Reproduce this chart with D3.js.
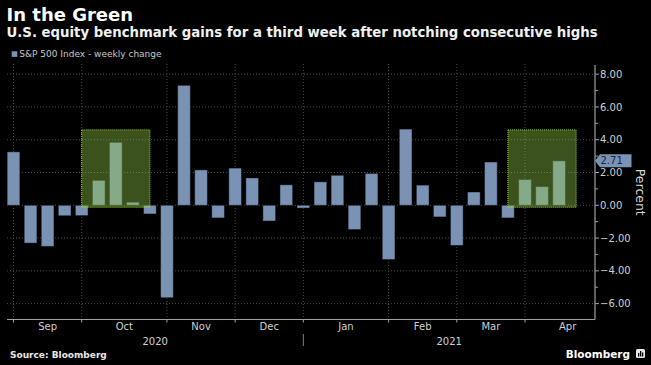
<!DOCTYPE html>
<html>
<head>
<meta charset="utf-8">
<script src="https://cdn.jsdelivr.net/npm/d3@7/dist/d3.min.js"></script>
<style>
  html, body { margin: 0; padding: 0; background: #000; }
  svg { display: block; }
</style>
</head>
<body>
<svg id="chart" width="651" height="365"></svg>
<script>
// ---- data ----
const weeks = ["2020-08-28","2020-09-04","2020-09-11","2020-09-18","2020-09-25","2020-10-02","2020-10-09","2020-10-16","2020-10-23","2020-10-30","2020-11-06","2020-11-13","2020-11-20","2020-11-27","2020-12-04","2020-12-11","2020-12-18","2020-12-24","2020-12-31","2021-01-08","2021-01-15","2021-01-22","2021-01-29","2021-02-05","2021-02-12","2021-02-19","2021-02-26","2021-03-05","2021-03-12","2021-03-19","2021-03-26","2021-04-01","2021-04-09"];
const values = [3.26,-2.31,-2.51,-0.64,-0.63,1.52,3.84,0.19,-0.53,-5.64,7.32,2.16,-0.77,2.27,1.67,-0.96,1.25,-0.17,1.43,1.83,-1.48,1.94,-3.31,4.65,1.23,-0.71,-2.45,0.81,2.64,-0.77,1.57,1.14,2.71];
const monthLabels = ["Sep","Oct","Nov","Dec","Jan","Feb","Mar","Apr"];
const monthGridWeek = [0,4,9,13,17,22,26,30,35];
const yearLabels = ["2020","2021"];
const yearSplitWeek = 17;
const yTicks = [8,6,4,2,0,-2,-4,-6];
const yMinorTicks = [7,5,3,1,-1,-3,-5];
const highlights = [{from:4,to:8},{from:29,to:33}];
const highlightTop = 4.6, highlightBottom = -0.12;
const lastValue = 2.71;

const svg = d3.select("#chart");
svg.append("rect").attr("width",651).attr("height",365).attr("fill","#000");

const plotL = 7, plotR = 595, plotT = 65, plotB = 319.5;
const x = d3.scaleBand().domain(weeks).range([7.15, 565.45]).paddingInner(0.255).paddingOuter(0);
const y = d3.scaleLinear().domain([-6.97, 8.56]).range([plotB, plotT]);
const xc = i => x.range()[0] + x.step()*i + x.bandwidth()/2;

// ---- gridlines ----
const grid = svg.append("g");
grid.selectAll("line.h").data(yTicks).join("line")
  .attr("x1", plotL).attr("x2", plotR)
  .attr("y1", d => y(d)).attr("y2", d => y(d))
  .attr("stroke", "#4a4a4a").attr("stroke-width", 1).attr("stroke-dasharray", "1,2");
grid.selectAll("line.v").data(monthGridWeek.filter(i => i < weeks.length)).join("line")
  .attr("x1", d => xc(d)).attr("x2", d => xc(d))
  .attr("y1", plotT - 1).attr("y2", plotB)
  .attr("stroke", "#4a4a4a").attr("stroke-width", 1).attr("stroke-dasharray", "1,2");

// ---- bars ----
svg.append("g").selectAll("rect").data(values).join("rect")
  .attr("x", (d,i) => x(weeks[i]))
  .attr("width", x.bandwidth())
  .attr("y", d => y(Math.max(0,d)))
  .attr("height", d => Math.abs(y(d) - y(0)))
  .attr("fill", "#7a93b5")
  .attr("stroke", "rgba(0,0,0,0.45)").attr("stroke-width", 1);

// ---- highlights ----
svg.append("g").selectAll("rect").data(highlights).join("rect")
  .attr("x", d => xc(d.from))
  .attr("width", d => xc(d.to) - xc(d.from))
  .attr("y", y(highlightTop))
  .attr("height", y(highlightBottom) - y(highlightTop))
  .attr("fill", "rgba(150,205,70,0.40)")
  .attr("stroke", "#9fcf3a").attr("stroke-width", 1).attr("stroke-dasharray", "1,1");

// ---- x axis ----
const ax = svg.append("g");
ax.append("line").attr("x1", plotL).attr("x2", plotR).attr("y1", plotB).attr("y2", plotB)
  .attr("stroke", "#a0a0a0").attr("stroke-width", 1.2);
ax.selectAll("line.t").data(monthGridWeek.filter(i => i < weeks.length)).join("line")
  .attr("x1", d => xc(d)).attr("x2", d => xc(d)).attr("y1", plotB).attr("y2", plotB + 3)
  .attr("stroke", "#a0a0a0");
ax.selectAll("text.m").data(monthLabels).join("text")
  .attr("x", (d,i) => (xc(monthGridWeek[i]) + xc(monthGridWeek[i+1]))/2)
  .attr("y", 330).attr("text-anchor", "middle")
  .attr("font-family", "DejaVu Sans").attr("font-size", 10).attr("fill", "#d0d0d0")
  .text(d => d);
const yearBounds = [plotL, xc(yearSplitWeek), plotR];
ax.selectAll("text.y").data(yearLabels).join("text")
  .attr("x", (d,i) => (yearBounds[i] + yearBounds[i+1])/2)
  .attr("y", 345).attr("text-anchor", "middle")
  .attr("font-family", "DejaVu Sans").attr("font-size", 10).attr("fill", "#d0d0d0")
  .text(d => d);
ax.append("line").attr("x1", xc(yearSplitWeek)).attr("x2", xc(yearSplitWeek))
  .attr("y1", 334).attr("y2", 346).attr("stroke", "#808080");

// ---- right y axis ----
const ay = svg.append("g");
ay.append("line").attr("x1", plotR).attr("x2", plotR).attr("y1", plotT).attr("y2", plotB)
  .attr("stroke", "#a0a0a0").attr("stroke-width", 1.2);
ay.selectAll("line.maj").data(yTicks).join("line")
  .attr("x1", plotR).attr("x2", plotR + 4).attr("y1", d => y(d)).attr("y2", d => y(d))
  .attr("stroke", "#a0a0a0");
ay.selectAll("line.min").data(yMinorTicks).join("line")
  .attr("x1", plotR).attr("x2", plotR + 3).attr("y1", d => y(d)).attr("y2", d => y(d))
  .attr("stroke", "#a0a0a0");
ay.selectAll("text").data(yTicks).join("text")
  .attr("x", plotR + 5).attr("y", d => y(d)).attr("dy", "0.36em")
  .attr("font-family", "DejaVu Sans").attr("font-size", 10).attr("fill", "#d0d0d0")
  .text(d => d3.format(".2f")(d).replace("-", "-"));
svg.append("text")
  .attr("transform", `translate(636,${(plotT+plotB)/2}) rotate(90)`)
  .attr("text-anchor", "middle")
  .attr("font-family", "DejaVu Sans").attr("font-size", 12.5).attr("fill", "#d8d8d8")
  .text("Percent");

// ---- last value tag ----
const ly = y(lastValue);
svg.append("path")
  .attr("d", `M${plotR},${ly} L${plotR+5},${ly-6.5} L${plotR+36.5},${ly-6.5} L${plotR+36.5},${ly+6.5} L${plotR+5},${ly+6.5} Z`)
  .attr("fill", "#7a93b5");
svg.append("text").attr("x", plotR + 5.5).attr("y", ly).attr("dy", "0.36em")
  .attr("font-family", "DejaVu Sans").attr("font-size", 10).attr("fill", "#18243a")
  .text(d3.format(".2f")(lastValue));

// ---- titles ----
svg.append("text").attr("x", 6.5).attr("y", 20.7)
  .attr("font-family", "DejaVu Sans").attr("font-weight", "bold").attr("font-size", 18)
  .attr("fill", "#ffffff").text("In the Green");
const sub = svg.append("text").attr("x", 6.5).attr("y", 36.7)
  .attr("font-family", "DejaVu Sans").attr("font-weight", "bold").attr("font-size", 13)
  .attr("fill", "#f0f0f0").text("U.S. equity benchmark gains for a third week after notching consecutive highs");
(function fit(sel, target){
  const w = sel.node().getComputedTextLength();
  if (w > 0) sel.attr("font-size", 13 * target / w);
})(sub, 592);

// legend
svg.append("rect").attr("x", 11.7).attr("y", 51.3).attr("width", 5.6).attr("height", 5.6).attr("fill", "#7a93b5");
svg.append("text").attr("x", 19.3).attr("y", 57.2)
  .attr("font-family", "DejaVu Sans").attr("font-size", 9).attr("fill", "#c8c8c8")
  .text("S&P 500 Index - weekly change");

// footer
svg.append("text").attr("x", 10).attr("y", 357.7)
  .attr("font-family", "DejaVu Sans").attr("font-weight", "bold").attr("font-size", 9)
  .attr("fill", "#e8e8e8").text("Source: Bloomberg");
svg.append("text").attr("x", 630).attr("y", 357.7).attr("text-anchor", "end")
  .attr("font-family", "DejaVu Sans").attr("font-weight", "bold").attr("font-size", 10.5)
  .attr("fill", "#ffffff").text("Bloomberg");
const icon = svg.append("g").attr("transform", "translate(636,349)");
icon.append("rect").attr("width", 9).attr("height", 9).attr("rx", 1.5).attr("fill", "#e8e8e8");
icon.append("rect").attr("x", 2).attr("y", 4).attr("width", 1.3).attr("height", 3.5).attr("fill", "#000");
icon.append("rect").attr("x", 4).attr("y", 2).attr("width", 1.3).attr("height", 5.5).attr("fill", "#000");
icon.append("rect").attr("x", 6).attr("y", 3.5).attr("width", 1.3).attr("height", 4).attr("fill", "#000");
</script>
</body>
</html>
